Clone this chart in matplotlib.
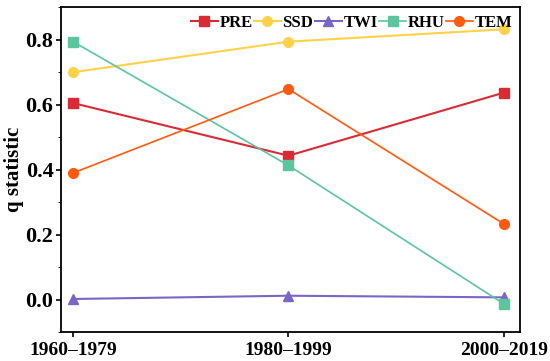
import matplotlib
matplotlib.use("Agg")
import matplotlib.pyplot as plt
from matplotlib.ticker import MultipleLocator

periods = ["1960\u20131979", "1980\u20131999", "2000\u20132019"]
pre = [0.605, 0.443, 0.637]
ssd = [0.700, 0.794, 0.832]
twi = [0.002, 0.012, 0.007]
rhu = [0.794, 0.413, -0.013]
tem = [0.390, 0.648, 0.233]

plt.rcParams['font.family'] = ['Liberation Serif', 'DejaVu Serif']
plt.rcParams['font.weight'] = 'bold'

fig, ax = plt.subplots(figsize=(5.5, 3.61), dpi=100)
x = range(len(periods))
ax.plot(x, pre, color='#D92B35', marker='s', ms=7, lw=1.5, label='PRE')
ax.plot(x, ssd, color='#FFD24A', marker='o', ms=7, lw=1.5, label='SSD')
ax.plot(x, twi, color='#7A66C4', marker='^', ms=7, lw=1.5, label='TWI')
ax.plot(x, rhu, color='#5CC59E', marker='s', ms=7, lw=1.2, label='RHU')
ax.plot(x, tem, color='#FF5A0E', marker='o', ms=7, lw=1.2, label='TEM')

ax.set_xticks(list(x))
ax.set_xticklabels(periods, fontsize=14, fontweight='bold')
ax.set_xlim(-0.056, 2.074)
ax.set_ylim(-0.1, 0.9)
ax.yaxis.set_minor_locator(MultipleLocator(0.1))
ax.set_yticks([0.0, 0.2, 0.4, 0.6, 0.8])
ax.set_yticklabels(["0.0", "0.2", "0.4", "0.6", "0.8"], fontsize=16, fontweight='bold')
ax.set_ylabel("q statistic", fontsize=15, fontweight='bold', labelpad=1)
for s in ax.spines.values():
    s.set_linewidth(1.3)
ax.tick_params(width=1.2)
ax.tick_params(axis='y', which='both', pad=2, length=3.5)
ax.tick_params(axis='y', which='minor', length=2.5)

ax.legend(loc='upper right', ncol=5, frameon=False, handlelength=1.6,
          handletextpad=0.1, columnspacing=0.1, borderaxespad=0.05,
          prop={'weight': 'bold', 'size': 12})

plt.subplots_adjust(left=0.111, right=0.945, top=0.98, bottom=0.08)
plt.savefig("out.png", dpi=100)
